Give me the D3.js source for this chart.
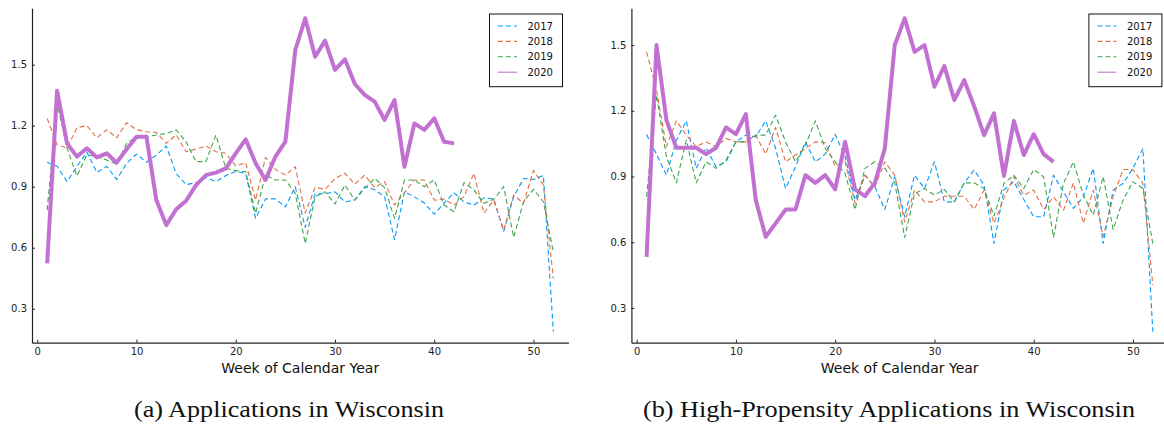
<!DOCTYPE html>
<html>
<head>
<meta charset="utf-8">
<script src="https://cdn.jsdelivr.net/npm/d3@7"></script>
<style>
  body { margin: 0; background: #fff; }
  svg { display: block; }
</style>
</head>
<body>
<svg id="chart" width="1164" height="427"></svg>
<script>
const weeks = d3.range(1, 53);
const years = ["2017", "2018", "2019", "2020"];
const colors = ["#009AFA", "#E36F47", "#3EA44E", "#C271D2"];
const xTicks = [0, 10, 20, 30, 40, 50];
const yTicks = [0.3, 0.6, 0.9, 1.2, 1.5];

// (a) all applications
const appl2017 = [1.02,1.00,0.925,1.00,1.07,0.97,1.00,0.935,1.015,1.06,1.02,1.055,1.10,0.965,0.91,0.92,0.945,0.925,0.955,0.975,0.965,0.745,0.84,0.84,0.80,0.90,0.70,0.865,0.865,0.875,0.825,0.835,0.90,0.885,0.85,0.64,0.875,0.85,0.82,0.765,0.82,0.87,0.825,0.81,0.845,0.84,0.68,0.85,0.94,0.935,0.955,0.187];
const appl2018 = [1.235,1.105,1.09,1.19,1.20,1.14,1.18,1.14,1.215,1.18,1.17,1.167,1.113,1.155,1.072,1.085,1.10,1.072,1.064,1.002,1.018,0.834,1.044,0.985,0.957,0.998,0.77,0.897,0.887,0.94,0.966,0.913,0.957,0.895,0.925,0.81,0.87,0.933,0.933,0.834,0.839,0.81,0.851,0.966,0.77,0.834,0.687,0.859,0.818,0.979,0.908,0.449];
const appl2019 = [0.785,1.31,1.09,0.952,1.056,1.048,1.031,1.011,1.113,1.146,1.146,1.154,1.162,1.179,1.12,1.023,1.023,1.154,0.99,0.979,0.974,0.769,0.957,0.933,0.933,0.867,0.621,0.851,0.875,0.815,0.908,0.834,0.892,0.941,0.895,0.744,0.933,0.933,0.90,0.933,0.81,0.777,0.92,0.884,0.818,0.838,0.90,0.651,0.826,0.887,0.826,0.58];
const appl2020 = [0.523,1.372,1.113,1.048,1.089,1.044,1.064,1.018,1.084,1.146,1.146,0.834,0.711,0.789,0.831,0.908,0.957,0.969,0.99,1.064,1.133,1.015,0.933,1.048,1.121,1.572,1.728,1.539,1.618,1.474,1.526,1.405,1.351,1.318,1.228,1.326,0.998,1.211,1.179,1.236,1.121,1.113];

// (b) high-propensity applications
const hp2017 = [1.092,1.002,0.906,1.066,1.154,0.937,1.031,0.944,0.967,1.058,1.089,1.081,1.154,1.028,0.845,0.944,1.058,0.967,1.002,1.092,0.99,0.792,0.906,0.853,0.749,0.899,0.716,0.906,0.845,0.967,0.784,0.784,0.871,0.929,0.861,0.594,0.838,0.876,0.795,0.716,0.716,0.906,0.83,0.754,0.807,0.937,0.594,0.838,0.868,0.937,1.028,0.191];
const hp2018 = [1.469,1.294,1.036,1.154,1.089,1.036,1.058,1.036,1.074,1.058,1.058,1.089,1.002,1.124,0.967,0.998,1.028,1.058,1.054,0.947,0.967,0.777,0.906,0.853,0.967,0.906,0.693,0.838,0.784,0.784,0.81,0.81,0.81,0.749,0.838,0.686,0.80,0.899,0.815,0.838,0.749,0.807,0.746,0.871,0.686,0.838,0.625,0.807,0.932,0.932,0.868,0.404];
const hp2019 = [0.807,1.272,0.99,0.871,1.066,0.871,0.967,0.937,0.975,1.058,1.058,1.089,1.089,1.18,1.058,0.967,1.043,1.154,1.028,0.967,0.914,0.749,0.937,0.967,0.937,0.871,0.622,0.822,0.845,0.815,0.841,0.784,0.871,0.871,0.845,0.719,0.868,0.906,0.845,0.932,0.899,0.622,0.868,0.967,0.815,0.724,0.899,0.658,0.792,0.876,0.845,0.594];
const hp2020 = [0.533,1.50,1.157,1.031,1.031,1.031,1.002,1.031,1.124,1.093,1.185,0.792,0.625,0.686,0.749,0.749,0.906,0.871,0.906,0.841,1.058,0.841,0.81,0.871,1.028,1.50,1.622,1.469,1.50,1.31,1.404,1.249,1.34,1.221,1.089,1.188,0.902,1.154,0.998,1.093,1.002,0.967];

const panels = [
    { x0: 32, x1: 568.5, yDomain: [0.133, 1.777], series: [appl2017, appl2018, appl2019, appl2020],
      caption: "(a) Applications in Wisconsin", capX: 289, capW: 310 },
    { x0: 631.4, x1: 1168, yDomain: [0.141, 1.668], series: [hp2017, hp2018, hp2019, hp2020],
      caption: "(b) High-Propensity Applications in Wisconsin", capX: 889, capW: 492 }
];

const plotTop = 8.3, plotBottom = 342.7;
const svg = d3.select("#chart");
svg.append("rect").attr("width", 1164).attr("height", 427).attr("fill", "#fff");

panels.forEach(p => {
    const g = svg.append("g");
    const x = d3.scaleLinear().domain([-0.53, 53.53]).range([p.x0, p.x1]);
    const y = d3.scaleLinear().domain(p.yDomain).range([plotBottom, plotTop]);

    const xAxis = g.append("g")
        .attr("transform", `translate(0,${plotBottom})`)
        .call(d3.axisBottom(x).tickValues(xTicks).tickSizeInner(-3).tickSizeOuter(0).tickPadding(5));
    const yAxis = g.append("g")
        .attr("transform", `translate(${p.x0},0)`)
        .call(d3.axisLeft(y).tickValues(yTicks).tickFormat(d3.format(".1f")).tickSizeInner(-3).tickSizeOuter(0).tickPadding(5));
    [xAxis, yAxis].forEach(a => {
        a.selectAll("text").attr("font-family", "DejaVu Sans").attr("font-size", 10).attr("fill", "#222");
        a.selectAll("line").attr("stroke", "#222");
        a.select(".domain").attr("stroke", "#222").attr("stroke-width", 1.2);
    });

    g.append("text")
        .attr("x", (p.x0 + p.x1) / 2).attr("y", 373.3)
        .attr("text-anchor", "middle")
        .attr("font-family", "DejaVu Sans").attr("font-size", 14).attr("fill", "#111")
        .text("Week of Calendar Year");

    const line = d3.line().x((d, i) => x(weeks[i])).y(d => y(d));
    p.series.forEach((s, k) => {
        const is2020 = k === 3;
        g.append("path")
            .datum(s)
            .attr("d", line)
            .attr("fill", "none")
            .attr("stroke", colors[k])
            .attr("stroke-width", is2020 ? 4 : 1.1)
            .attr("stroke-dasharray", is2020 ? null : "5,3")
            .attr("stroke-linejoin", "round");
    });

    // legend
    const lg = g.append("g").attr("transform", `translate(${p.x0 + 457.5},14)`);
    lg.append("rect").attr("width", 73).attr("height", 72.7)
        .attr("fill", "#fff").attr("stroke", "#111").attr("stroke-width", 1);
    years.forEach((yr, k) => {
        const ly = 12 + k * 15.4;
        lg.append("line").attr("x1", 8.5).attr("x2", 27.5).attr("y1", ly).attr("y2", ly)
            .attr("stroke", colors[k]).attr("stroke-width", 1.1)
            .attr("stroke-dasharray", k === 3 ? null : "5,3");
        lg.append("text").attr("x", 38).attr("y", ly).attr("dy", "0.35em")
            .attr("font-family", "DejaVu Sans").attr("font-size", 10).attr("fill", "#111")
            .text(yr);
    });

    svg.append("text")
        .attr("x", p.capX).attr("y", 416.7)
        .attr("text-anchor", "middle")
        .attr("font-family", "Liberation Serif").attr("font-size", 24).attr("fill", "#111")
        .attr("textLength", p.capW).attr("lengthAdjust", "spacingAndGlyphs")
        .text(p.caption);
});
</script>
</body>
</html>
